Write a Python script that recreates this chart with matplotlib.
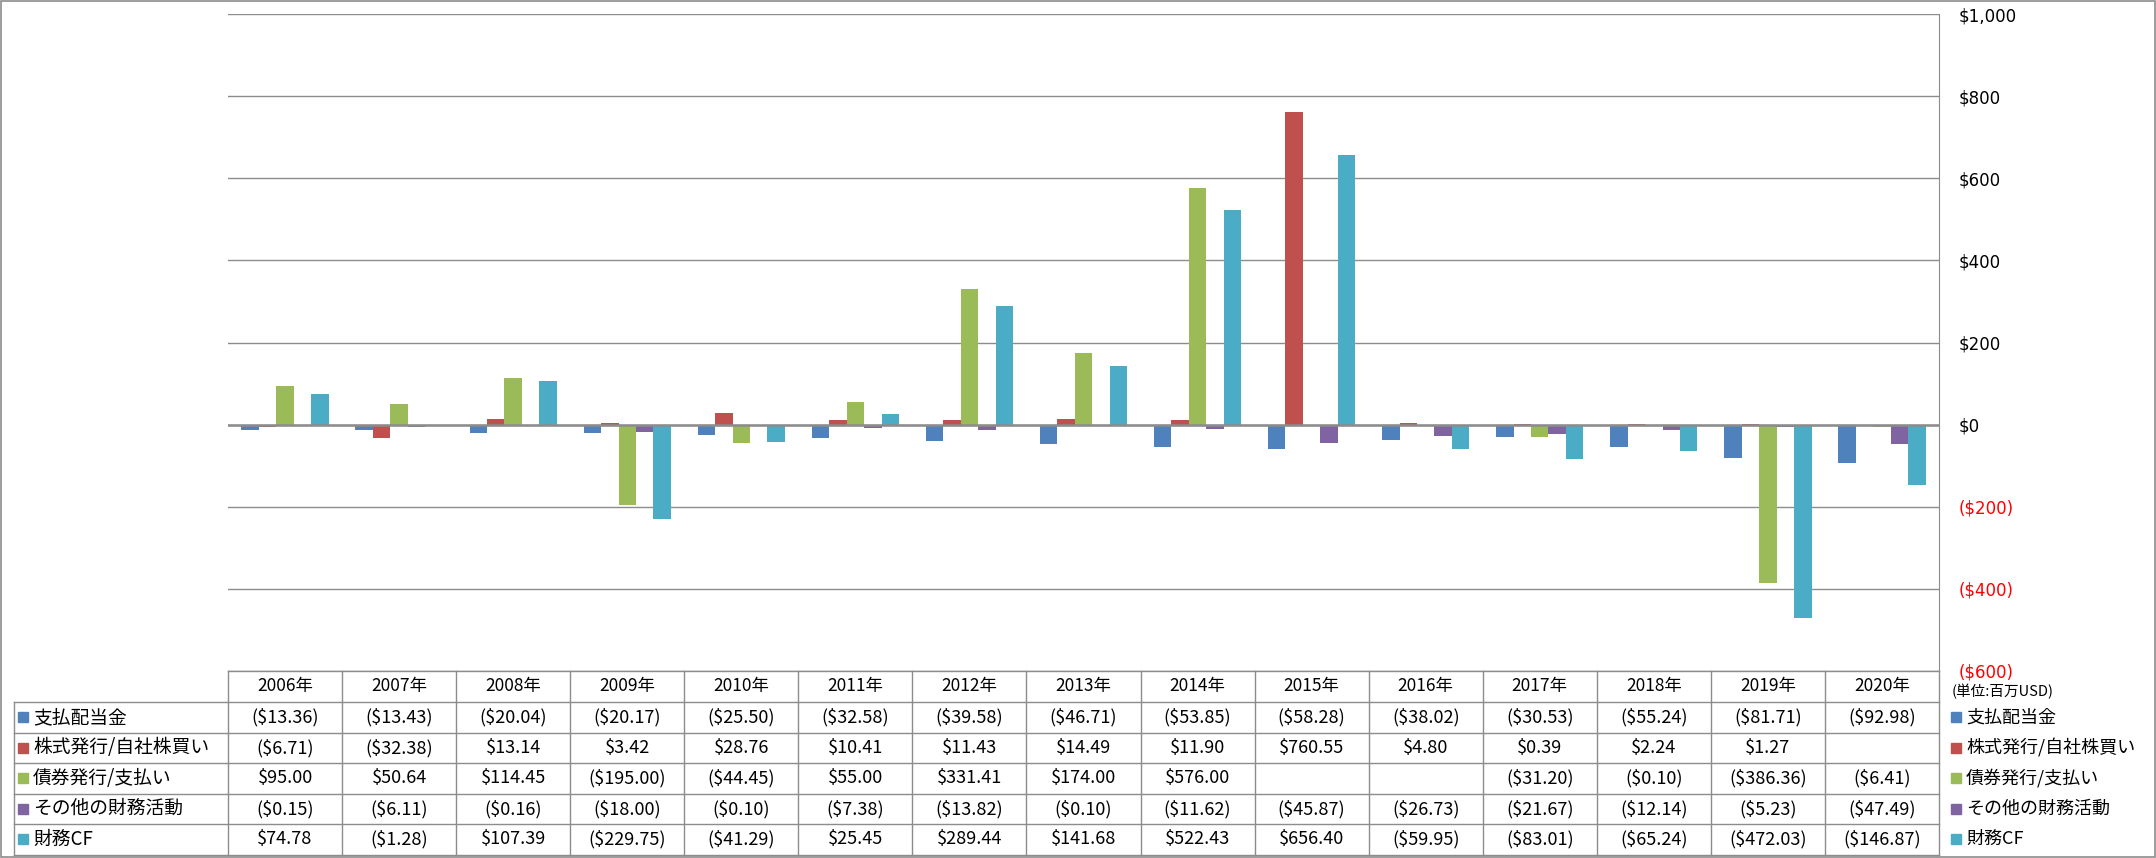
import matplotlib.pyplot as plt
import numpy as np
from matplotlib.lines import Line2D
from matplotlib.patches import Rectangle

years = ["2006年", "2007年", "2008年", "2009年", "2010年", "2011年", "2012年", "2013年",
         "2014年", "2015年", "2016年", "2017年", "2018年", "2019年", "2020年"]
series_names = ["支払配当金", "株式発行/自社株買い", "債券発行/支払い", "その他の財務活動", "財務CF"]
dividends = [-13.36, -13.43, -20.04, -20.17, -25.50, -32.58, -39.58, -46.71, -53.85, -58.28,
             -38.02, -30.53, -55.24, -81.71, -92.98]
stock = [-6.71, -32.38, 13.14, 3.42, 28.76, 10.41, 11.43, 14.49, 11.90, 760.55,
         4.80, 0.39, 2.24, 1.27, None]
bonds = [95.00, 50.64, 114.45, -195.00, -44.45, 55.00, 331.41, 174.00, 576.00, None,
         None, -31.20, -0.10, -386.36, -6.41]
other = [-0.15, -6.11, -0.16, -18.00, -0.10, -7.38, -13.82, -0.10, -11.62, -45.87,
         -26.73, -21.67, -12.14, -5.23, -47.49]
financing_cf = [74.78, -1.28, 107.39, -229.75, -41.29, 25.45, 289.44, 141.68, 522.43, 656.40,
                -59.95, -83.01, -65.24, -472.03, -146.87]
y_ticks = [-600, -400, -200, 0, 200, 400, 600, 800, 1000]

all_series = [dividends, stock, bonds, other, financing_cf]
colors = ["#4F81BD", "#C0504D", "#9BBB59", "#8064A2", "#4BACC6"]
GRID = "#8C8C8C"
JP = ["Noto Sans CJK JP", "DejaVu Sans"]
NUM = ["Liberation Sans Narrow", "Noto Sans CJK JP", "DejaVu Sans"]

W, H = 2156, 858
fig = plt.figure(figsize=(W / 100, H / 100), dpi=100, facecolor="white")


def fx(px):
    return px / W


def fy(py):
    return 1 - py / H


plot_l, plot_r, plot_t, plot_b = 228, 1939, 14, 671
ax = fig.add_axes([fx(plot_l), fy(plot_b), fx(plot_r - plot_l), (plot_b - plot_t) / H])

n = len(years)
x = np.arange(n)
bw = 0.153
for i, (vals, c) in enumerate(zip(all_series, colors)):
    v = np.array([np.nan if a is None else a for a in vals], dtype=float)
    ax.bar(x + (i - 2) * bw, np.nan_to_num(v), width=bw, color=c, zorder=3)

ax.set_xlim(-0.5, n - 0.5)
ax.set_ylim(-600, 1000)
ax.set_xticks([])
ax.set_yticks(y_ticks)
ax.yaxis.tick_right()
ax.tick_params(axis="y", length=0, pad=14)
ax.set_yticklabels([f"${t:,}" if t >= 0 else f"(${-t:,})" for t in y_ticks],
                   fontsize=12, family=["DejaVu Sans"])
for lbl, t in zip(ax.get_yticklabels(), y_ticks):
    lbl.set_color("red" if t < 0 else "black")
    lbl.set_horizontalalignment("left")
ax.grid(axis="y", color=GRID, lw=1, zorder=0)
ax.axhline(0, color=GRID, lw=1.8, zorder=4)
for s in ["left", "top", "bottom"]:
    ax.spines[s].set_visible(False)
ax.spines["right"].set_color(GRID)


def fmt(v):
    if v is None:
        return ""
    return f"${v:,.2f}" if v >= 0 else f"(${-v:,.2f})"


# data table below the chart
col_w = (plot_r - plot_l) / n
head_top, row_h = 671, 30.5
row_tops = [702 + k * row_h for k in range(6)]
lab_l = 14
bottom = row_tops[-1]
fig.add_artist(Line2D([fx(plot_l), fx(plot_r)], [fy(head_top)] * 2, color=GRID, lw=1))
for yt in row_tops:
    fig.add_artist(Line2D([fx(lab_l), fx(plot_r)], [fy(yt)] * 2, color=GRID, lw=1))
fig.add_artist(Line2D([fx(lab_l)] * 2, [fy(row_tops[0]), fy(bottom)], color=GRID, lw=1))
for k in range(n + 1):
    xv = plot_l + k * col_w
    fig.add_artist(Line2D([fx(xv)] * 2, [fy(head_top), fy(bottom)], color=GRID, lw=1))

for k, yr in enumerate(years):
    fig.text(fx(plot_l + (k + 0.5) * col_w), fy((head_top + row_tops[0]) / 2), yr,
             ha="center", va="center", fontsize=12.5, family=JP)

for r, (name, vals, c) in enumerate(zip(series_names, all_series, colors)):
    yc = fy(row_tops[r] + row_h / 2)
    fig.add_artist(Rectangle((fx(18), yc - 5 / H), 10 / W, 10 / H, color=c))
    fig.text(fx(33), yc, name, ha="left", va="center", fontsize=13.5, family=JP)
    for k, v in enumerate(vals):
        fig.text(fx(plot_l + (k + 0.5) * col_w), yc, fmt(v),
                 ha="center", va="center", fontsize=13, family=NUM)
    # legend on the right
    fig.add_artist(Rectangle((fx(1951), yc - 5 / H), 10 / W, 10 / H, color=c))
    fig.text(fx(1966), yc, name, ha="left", va="center", fontsize=13, family=JP)

fig.text(fx(1952), fy(692), "(単位:百万USD)", ha="left", va="center", fontsize=10.5, family=JP)

fig.add_artist(Rectangle((0.0005, 0.001), 0.999, 0.998, fill=False, edgecolor=GRID, lw=1.2))

fig.savefig("out.png", dpi=100, facecolor="white")
